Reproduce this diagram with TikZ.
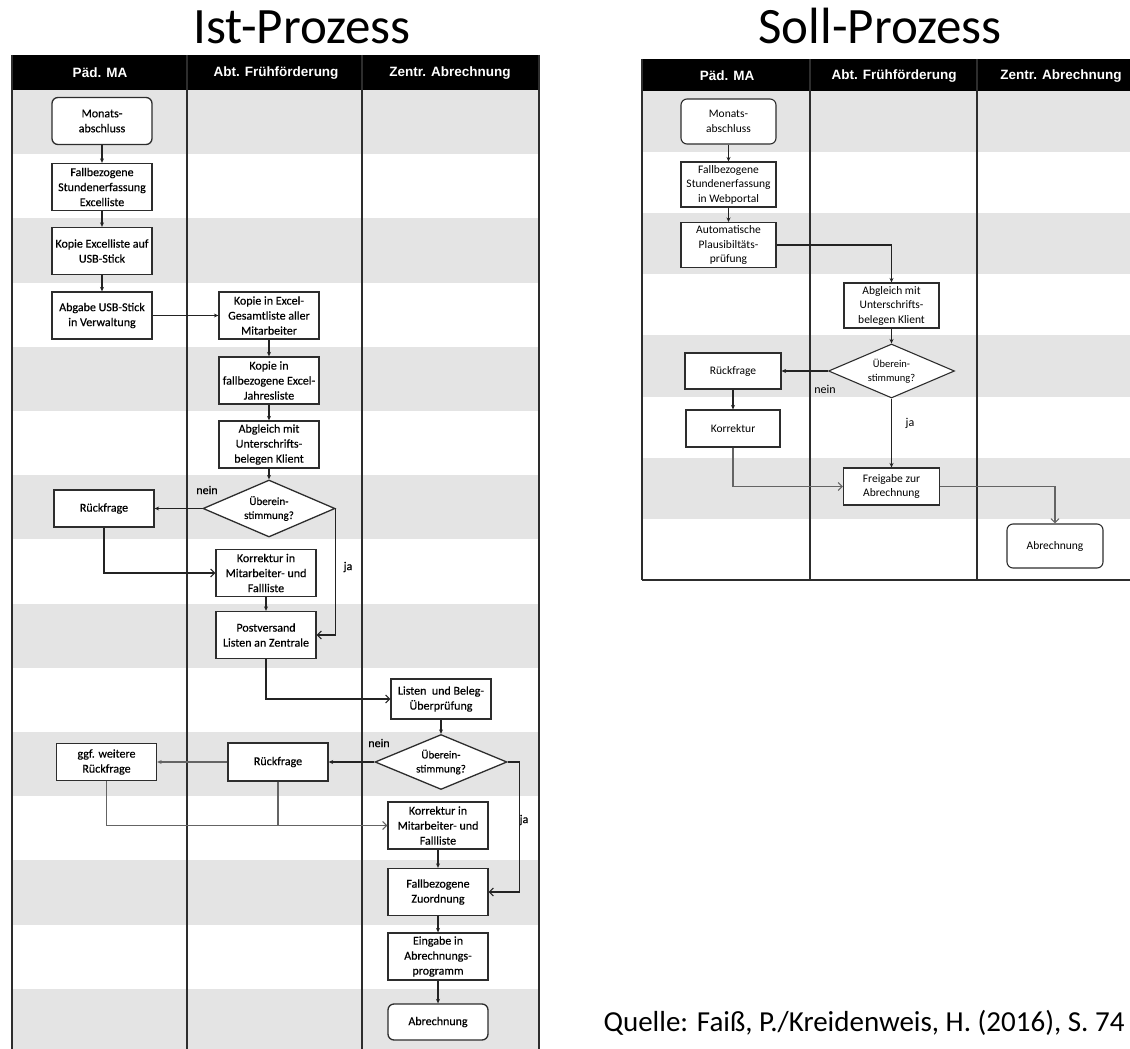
\documentclass[tikz,border=0pt]{standalone}
\usepackage{fontspec}
\setmainfont{Carlito}
\newfontfamily\headfont{Liberation Sans}
\newfontfamily\istfont{Carlito}[FakeBold=0.4]
\usetikzlibrary{shapes.geometric,arrows.meta}

\definecolor{band}{RGB}{228,228,228}
\definecolor{lanecol}{RGB}{45,45,45}
\definecolor{linecol}{RGB}{35,35,35}
\definecolor{pale}{RGB}{100,100,100}

\tikzset{
  box/.style={draw=lanecol, fill=white, line width=1.1pt, align=center, inner sep=1pt,
    font=\fontsize{12}{15}\selectfont},
  istbox/.style={box, minimum width=100pt, minimum height=47pt, line width=1.3pt,
    font=\istfont\fontsize{12}{15}\selectfont},
  sollbox/.style={box, minimum width=95pt, minimum height=45pt, font=\fontsize{11.5}{14.5}\selectfont},
  endbox/.style={rounded corners=6pt},
  query/.style={box, diamond, aspect=2.3, inner sep=0pt, font=\fontsize{11}{14}\selectfont},
  lane/.style={draw=lanecol, line width=1.3pt},
  lanehead/.style={text=white, font=\headfont\bfseries\fontsize{13.5}{16}\selectfont},
  tag/.style={font=\fontsize{12}{14}\selectfont, inner sep=0pt},
  arr/.style={draw=linecol, line width=1.1pt, -{Stealth[length=4.5pt,width=4pt]}},
  barb/.style={draw=linecol, line width=1.1pt, -{Straight Barb[length=4pt,width=8pt]}},
}

\begin{document}
\begin{tikzpicture}[x=1pt, y=-1pt]
    \useasboundingbox (0,0) rectangle (1130,1049);

    % Titles
    \node[anchor=base, font=\fontsize{51}{60}\selectfont] (ist) at (302,44) {Ist-Prozess};
    \node[anchor=base, font=\fontsize{51}{60}\selectfont] (soll) at (880,44) {Soll-Prozess};

    % Draw lanes (Ist)
    \foreach \k in {0,2,...,14}
        \fill[band] (12,{90+64.2*\k}) rectangle (539,{154.2+64.2*\k});
    \fill[black] (12,55) rectangle (539,90);
    \foreach \x in {12,187,362,539}
        \draw[lane] (\x,55) -- (\x,1049);

    % Draw lanes (Soll)
    \foreach \k in {0,2,4,6}
        \fill[band] (642,{91+61.1*\k}) rectangle (1130,{152.1+61.1*\k});
    \fill[black] (642,59) rectangle (1130,91);
    \foreach \x in {642,810,977}
        \draw[lane] (\x,59) -- (\x,580);
    \draw[lane] (642,580) -- (1130,580);

    % Lane headers
    \node[lanehead] (h1) at (100,73) {Päd. MA};
    \node[lanehead] (h2) at (276,73) {Abt. Frühförderung};
    \node[lanehead] (h3) at (450,73) {Zentr. Abrechnung};
    \node[lanehead] (h4) at (727,76) {Päd. MA};
    \node[lanehead] (h5) at (894,76) {Abt. Frühförderung};
    \node[lanehead] (h6) at (1061,76) {Zentr. Abrechnung};

    % Draw nodes (Ist)
    \node[istbox, endbox] (m1) at (102,121) {Monats-\\abschluss};
    \node[istbox] (f1) at (102,187) {Fallbezogene\\Stundenerfassung\\Excelliste};
    \node[istbox] (u1) at (102,251) {Kopie Excelliste auf\\USB-Stick};
    \node[istbox] (a1) at (102,315.5) {Abgabe USB-Stick\\in Verwaltung};
    \node[istbox] (g1) at (269,315.5) {Kopie in Excel-\\Gesamtliste aller\\Mitarbeiter};
    \node[istbox] (j1) at (269,380.5) {Kopie in\\fallbezogene Excel-\\Jahresliste};
    \node[istbox] (v1) at (269,444.5) {Abgleich mit\\Unterschrifts-\\belegen Klient};
    \node[query, minimum width=132pt, minimum height=57pt, line width=1.3pt, font=\istfont\fontsize{11}{14}\selectfont] (d1) at (269,508.5) {Überein-\\stimmung?};
    \node[istbox, minimum height=37pt] (r1) at (104,508.5) {Rückfrage};
    \node[istbox] (k1) at (266,573) {Korrektur in\\Mitarbeiter- und\\Fallliste};
    \node[istbox] (p1) at (266,635) {Postversand\\Listen an Zentrale};
    \node[istbox, minimum height=40pt] (l1) at (441,699) {Listen\ \ und Beleg-\\Überprüfung};
    \node[query, minimum width=132pt, minimum height=55pt, line width=1.3pt, font=\istfont\fontsize{11}{14}\selectfont] (d2) at (441,762) {Überein-\\stimmung?};
    \node[istbox, minimum height=38pt] (r2) at (278,762) {Rückfrage};
    \node[istbox, minimum height=37pt] (w2) at (106.5,762) {ggf. weitere\\Rückfrage};
    \node[istbox] (k2) at (438,825.5) {Korrektur in\\Mitarbeiter- und\\Fallliste};
    \node[istbox] (z2) at (438,892) {Fallbezogene\\Zuordnung};
    \node[istbox] (e2) at (438,956.5) {Eingabe in\\Abrechnungs-\\programm};
    \node[istbox, endbox, minimum height=36pt] (b2) at (438,1022) {Abrechnung};

    \node[tag, font=\istfont\fontsize{12}{14}\selectfont] (n1) at (207,490) {nein};
    \node[tag, font=\istfont\fontsize{12}{14}\selectfont] (y1) at (348,567) {ja};
    \node[tag, font=\istfont\fontsize{12}{14}\selectfont] (n2) at (379,743) {nein};
    \node[tag, font=\istfont\fontsize{12}{14}\selectfont] (y2) at (524,820) {ja};

    % Draw edges (Ist)
    \draw[arr] (m1) -- (f1);
    \draw[arr] (f1) -- (u1);
    \draw[arr] (u1) -- (a1);
    \draw[arr] (a1) -- (g1);
    \draw[arr] (g1) -- (j1);
    \draw[arr] (j1) -- (v1);
    \draw[arr] (v1) -- (d1);
    \draw[arr] (d1) -- (r1);
    \draw[barb] (r1) |- (k1);
    \draw[barb] (d1.east) |- (p1);
    \draw[arr] (k1) -- (p1);
    \draw[barb] (p1) |- (l1);
    \draw[arr] (l1) -- (d2);
    \draw[arr] (d2) -- (r2);
    \draw[arr, draw=pale] (r2) -- (w2);
    \draw[barb, draw=pale] (w2) |- (k2);
    \draw[draw=pale, line width=1.1pt] (r2) -- (r2 |- k2);
    \draw[barb] (d2.east) -- ++(12,0) |- (z2);
    \draw[arr] (k2) -- (z2);
    \draw[arr] (z2) -- (e2);
    \draw[arr] (e2) -- (b2);

    % Draw nodes (Soll)
    \node[sollbox, endbox] (m3) at (728.5,121.5) {Monats-\\abschluss};
    \node[sollbox] (f3) at (728.5,184.5) {Fallbezogene\\Stundenerfassung\\in Webportal};
    \node[sollbox] (q3) at (728.5,245) {Automatische\\Plausibiltäts-\\prüfung};
    \node[sollbox] (v3) at (891.5,305.5) {Abgleich mit\\Unterschrifts-\\belegen Klient};
    \node[query, minimum width=126pt, minimum height=54pt, font=\fontsize{10.5}{13.5}\selectfont] (d3) at (891.5,371) {Überein-\\stimmung?};
    \node[sollbox, minimum width=96pt, minimum height=36pt] (r3) at (733,371) {Rückfrage};
    \node[sollbox, minimum width=94pt, minimum height=37pt] (k3) at (733,428.5) {Korrektur};
    \node[sollbox, minimum width=96pt, minimum height=37pt] (c3) at (891.5,486.5) {Freigabe zur\\Abrechnung};
    \node[sollbox, endbox, minimum width=96pt, minimum height=44pt] (b3) at (1055,546) {Abrechnung};

    \node[tag] (n3) at (825,389) {nein};
    \node[tag] (y3) at (910,423) {ja};

    % Draw edges (Soll)
    \draw[arr] (m3) -- (f3);
    \draw[arr] (f3) -- (q3);
    \draw[arr] (q3) -| (v3);
    \draw[arr] (v3) -- (d3);
    \draw[arr] (d3) -- (r3);
    \draw[arr] (r3) -- (k3);
    \draw[arr] (d3) -- (c3);
    \draw[barb, draw=pale] (k3) |- (c3);
    \draw[barb, draw=pale] (c3) -| (b3);

    % Source
    \node[anchor=base west, font=\fontsize{29}{34}\selectfont] (src) at (600,1031) {Quelle: Faiß, P./Kreidenweis, H. (2016), S. 74};
\end{tikzpicture}
\end{document}
